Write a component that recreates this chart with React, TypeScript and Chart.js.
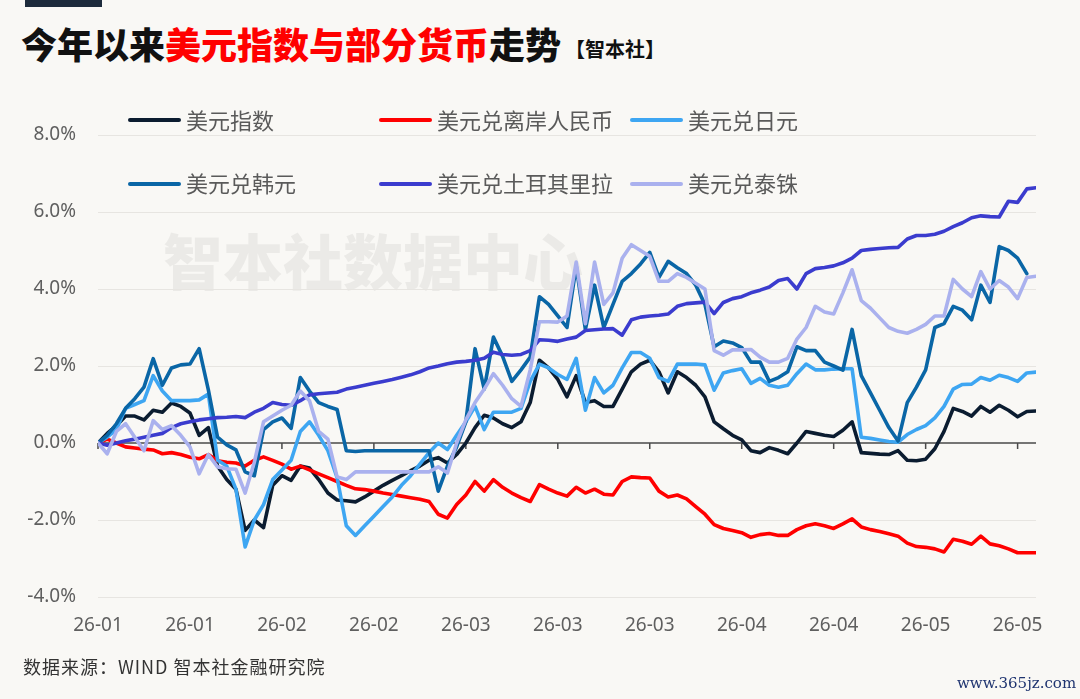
import React, { useEffect, useRef } from "react";
import { Chart, registerables } from "chart.js";

Chart.register(...registerables);

const FONT = '"Noto Sans", "Noto Sans CJK SC", sans-serif';
const CJK = '"Noto Sans CJK SC", "Noto Sans", sans-serif';
const BG = "#f9f8f5";

const seriesNames = ["美元指数", "美元兑离岸人民币", "美元兑日元", "美元兑韩元", "美元兑土耳其里拉", "美元兑泰铢"];
const seriesColors = ["#0b1c30", "#ff0000", "#3ea6f2", "#0a66a6", "#3b3cce", "#aab1ee"];
const tickLabels = ["26-01", "26-01", "26-02", "26-02", "26-03", "26-03", "26-03", "26-04", "26-04", "26-05", "26-05"];
const pointsPerTick = 10;
const yTicks = { min: -4, max: 8, step: 2 };

const usdIndex = [
  0, 0.25, 0.45, 0.7, 0.7, 0.6, 0.85, 0.8, 1.04, 0.95,
  0.78, 0.2, 0.4, -0.6, -0.95, -1.2, -2.27, -2.0, -2.2, -1.1,
  -0.85, -0.97, -0.6, -0.65, -0.95, -1.3, -1.48, -1.5, -1.53, -1.4,
  -1.25, -1.1, -0.97, -0.85, -0.72, -0.6, -0.45, -0.38, -0.52, -0.3,
  0.0, 0.4, 0.72, 0.65, 0.5, 0.4, 0.55, 1.05, 2.15, 1.95,
  1.65, 1.2, 1.75, 1.05, 1.1, 0.95, 0.95, 1.4, 1.85, 2.05,
  2.15, 1.85, 1.3, 1.85, 1.7, 1.5, 1.2, 0.55, 0.37, 0.2,
  0.08, -0.2, -0.25, -0.12, -0.19, -0.28, 0.0, 0.3, 0.25, 0.2,
  0.17, 0.33, 0.55, -0.25, -0.27, -0.29, -0.3, -0.2, -0.45, -0.46,
  -0.42, -0.15, 0.3, 0.9, 0.82, 0.7, 0.95, 0.8, 0.98, 0.85,
  0.68, 0.82, 0.83,
];

const usdCnh = [
  0, 0.1, 0.0, -0.1, -0.13, -0.16, -0.18, -0.28, -0.25, -0.3,
  -0.37, -0.41, -0.3, -0.46, -0.5, -0.52, -0.6, -0.45, -0.36, -0.45,
  -0.55, -0.68, -0.6, -0.7, -0.8, -0.9, -1.0, -1.1, -1.19, -1.21,
  -1.25, -1.3, -1.34, -1.38, -1.42, -1.46, -1.52, -1.85, -1.95, -1.6,
  -1.35, -1.0, -1.25, -0.95, -1.15, -1.3, -1.42, -1.52, -1.08, -1.2,
  -1.3, -1.38, -1.15, -1.3, -1.2, -1.33, -1.35, -1.0, -0.88, -0.9,
  -0.91, -1.25, -1.4, -1.35, -1.45, -1.65, -1.85, -2.12, -2.22, -2.27,
  -2.33, -2.45, -2.38, -2.35, -2.4, -2.4, -2.25, -2.15, -2.1, -2.15,
  -2.22, -2.1, -1.97, -2.18, -2.25, -2.3, -2.36, -2.42, -2.6, -2.69,
  -2.71, -2.75, -2.83, -2.5, -2.55, -2.63, -2.42, -2.62, -2.67, -2.75,
  -2.85, -2.85, -2.85,
];

const usdJpy = [
  0, 0.15, 0.35, 0.9, 1.0, 1.1, 1.75, 1.35, 1.1, 1.1,
  1.1, 1.12, 1.27, -0.45, -0.6, -1.2, -2.7, -2.0, -1.6, -0.95,
  -0.7, -0.45, 0.3, 0.55, 0.2, -0.2, -0.9, -2.15, -2.4, -2.15,
  -1.9, -1.65, -1.4, -1.1, -0.85, -0.55, -0.25, 0.0, -0.17, 0.2,
  0.55, 0.95, 0.35, 0.8, 0.8, 0.8, 0.9, 1.6, 2.05, 1.95,
  1.78, 1.65, 2.2, 0.85, 1.7, 1.3, 1.5, 1.95, 2.35, 2.35,
  2.2, 1.7, 1.6, 2.05, 2.05, 2.05, 2.03, 1.37, 1.82, 1.88,
  1.93, 1.55, 1.68, 1.5, 1.45, 1.5, 1.8, 2.05, 1.9, 1.9,
  1.92, 1.93, 1.93, 0.15, 0.12, 0.08, 0.04, 0.02, 0.22, 0.35,
  0.45, 0.65, 0.95, 1.4, 1.52, 1.53, 1.7, 1.63, 1.76, 1.7,
  1.6, 1.82, 1.84,
];

const usdKrw = [
  0, 0.2, 0.5, 0.9, 1.15, 1.45, 2.19, 1.5, 1.95, 2.03,
  2.05, 2.45, 1.38, 0.15, -0.05, -0.18, -0.75, -0.85, 0.35, 0.55,
  0.65, 0.38, 1.7, 1.35, 1.05, 0.95, 0.87, -0.2, -0.22, -0.2,
  -0.2, -0.2, -0.2, -0.2, -0.2, -0.2, -0.2, -1.25, -0.6, -0.1,
  0.55, 2.45, 1.4, 2.75, 2.25, 1.6, 1.9, 2.23, 3.8, 3.6,
  3.3, 3.0, 4.6, 2.95, 4.1, 3.0, 3.6, 4.2, 4.4, 4.65,
  4.95, 4.3, 4.72, 4.55, 4.4, 4.1, 3.6, 2.5, 2.65, 2.6,
  2.48, 2.1, 2.1, 1.6, 1.7, 1.85, 2.5, 2.4, 2.4, 2.1,
  2.0, 1.89, 2.95, 1.75, 1.3, 0.85, 0.4, 0.05, 1.05, 1.45,
  1.9, 3.0, 3.1, 3.55, 3.45, 3.2, 4.1, 3.65, 5.1, 5.0,
  4.8, 4.4, null,
];

const usdTry = [
  0, -0.06, 0.0, 0.06, 0.1, 0.15, 0.2, 0.25, 0.4, 0.5,
  0.55, 0.6, 0.63, 0.66, 0.67, 0.69, 0.66, 0.8, 0.9, 1.05,
  1.0, 0.98, 1.1, 1.25, 1.28, 1.3, 1.32, 1.4, 1.45, 1.5,
  1.55, 1.6, 1.65, 1.71, 1.77, 1.85, 1.95, 2.0, 2.06, 2.1,
  2.12, 2.15, 2.2, 2.36, 2.3, 2.28, 2.3, 2.4, 2.68, 2.67,
  2.64, 2.7, 2.75, 2.92, 2.94, 2.96, 2.97, 2.8, 3.2, 3.27,
  3.3, 3.32, 3.35, 3.55, 3.62, 3.64, 3.66, 3.36, 3.65, 3.75,
  3.8, 3.9, 3.97, 4.05, 4.22, 4.27, 4.0, 4.4, 4.53, 4.56,
  4.6, 4.68, 4.8, 5.0, 5.03, 5.05, 5.07, 5.08, 5.3, 5.39,
  5.39, 5.42, 5.5, 5.62, 5.72, 5.85, 5.9, 5.88, 5.87, 6.28,
  6.25, 6.6, 6.63,
];

const usdThb = [
  0, -0.28, 0.3, 0.5, 0.15, -0.2, 0.58, 0.35, 0.45, 0.2,
  -0.1, -0.8, -0.3, -0.62, -0.67, -0.68, -1.3, -0.5, 0.55, 0.7,
  0.85, 0.98, 1.35, 1.1, 0.3, 0.1, -0.88, -0.95, -0.75, -0.75,
  -0.75, -0.75, -0.75, -0.75, -0.75, -0.75, -0.75, -0.62, -0.78, 0.0,
  0.6, 1.05, 1.4, 1.8, 1.5, 1.15, 0.95, 1.9, 3.15, 3.15,
  3.14, 3.3, 4.7, 3.1, 4.7, 3.6, 3.9, 4.8, 5.15, 5.0,
  4.85, 4.2, 4.2, 4.4, 4.3, 4.15, 4.0, 2.4, 2.28, 2.42,
  2.42, 2.43, 2.23, 2.1, 2.1, 2.2, 2.7, 3.0, 3.55, 3.4,
  3.35, 3.9, 4.5, 3.7, 3.5, 3.25, 3.0, 2.9, 2.85, 2.95,
  3.08, 3.3, 3.3, 4.25, 4.0, 3.8, 4.45, 4.0, 4.22, 4.05,
  3.75, 4.3, 4.33,
];

const seriesValues = [usdIndex, usdCnh, usdJpy, usdKrw, usdTry, usdThb];
const dayIndex = usdIndex.map((_, i) => i);

const legendCols = [128, 379, 630];
const legendRows = [118.5, 182];

const zeroAxisPlugin = {
  id: "zeroAxisTicks",
  beforeDatasetsDraw(chart: any) {
    const xs = chart.scales.x;
    const ys = chart.scales.y;
    const y0 = ys.getPixelForValue(0);
    const ctx = chart.ctx;
    ctx.save();
    ctx.strokeStyle = "#4a4a4a";
    ctx.lineWidth = 1.5;
    ctx.beginPath();
    ctx.moveTo(chart.chartArea.left, y0);
    ctx.lineTo(chart.chartArea.right, y0);
    xs.ticks.forEach((t: any) => {
      const px = xs.getPixelForValue(t.value);
      ctx.moveTo(px, y0);
      ctx.lineTo(px, y0 + 6);
    });
    ctx.stroke();
    ctx.restore();
  },
};

export default function App() {
  const canvasRef = useRef<HTMLCanvasElement | null>(null);

  useEffect(() => {
    const prev = document.body.style.margin;
    document.body.style.margin = "0";
    const canvas = canvasRef.current;
    if (!canvas) return;
    const chart = new Chart(canvas, {
      type: "line",
      data: {
        labels: dayIndex,
        datasets: seriesNames.map((name, i) => ({
          label: name,
          data: seriesValues[i],
          borderColor: seriesColors[i],
          backgroundColor: seriesColors[i],
          borderWidth: 3.6,
          pointRadius: 0,
          pointHoverRadius: 0,
          tension: 0,
          fill: false,
          spanGaps: false,
          borderJoinStyle: "round" as const,
          borderCapStyle: "round" as const,
          order: seriesNames.length - 1 - i,
        })),
      },
      options: {
        animation: false,
        responsive: true,
        maintainAspectRatio: false,
        events: [],
        layout: { padding: { top: 135, right: 44, bottom: 0, left: 0 } },
        plugins: {
          legend: { display: false },
          tooltip: { enabled: false },
          title: { display: false },
        },
        scales: {
          x: {
            type: "linear",
            min: 0,
            max: dayIndex.length - 1,
            afterFit: (scale: any) => {
              scale.height = 102;
            },
            afterBuildTicks: (scale: any) => {
              scale.ticks = tickLabels.map((_, k) => ({ value: k * pointsPerTick }));
            },
            grid: { display: false, drawTicks: false },
            border: { display: false },
            ticks: {
              autoSkip: false,
              maxRotation: 0,
              padding: 17,
              color: "#5f5f5f",
              font: { family: FONT, size: 19 },
              callback: (v: any) => tickLabels[Math.round(Number(v) / pointsPerTick)] ?? "",
            },
          },
          y: {
            min: yTicks.min,
            max: yTicks.max,
            afterFit: (scale: any) => {
              scale.width = 98;
            },
            grid: {
              drawTicks: false,
              color: (c: any) => (c.tick && c.tick.value === 0 ? "rgba(0,0,0,0)" : "#e7e5e1"),
              lineWidth: 1,
            },
            border: { display: false },
            ticks: {
              stepSize: yTicks.step,
              padding: 22,
              color: "#5f5f5f",
              font: { family: FONT, size: 19 },
              callback: (v: any) => Number(v).toFixed(1) + "%",
            },
          },
        },
      },
      plugins: [zeroAxisPlugin],
    });
    return () => {
      chart.destroy();
      document.body.style.margin = prev;
    };
  }, []);

  return (
    <div
      style={{
        position: "fixed",
        left: 0,
        top: 0,
        width: 1080,
        height: 699,
        background: BG,
        overflow: "hidden",
        fontFamily: CJK,
      }}
    >
      <div style={{ position: "absolute", left: 25, top: 0, width: 77, height: 7, background: "#1d2b3c" }} />
      <div
        style={{
          position: "absolute",
          left: 21,
          top: 25,
          fontSize: 36,
          lineHeight: "36px",
          fontWeight: 900,
          color: "#111",
          whiteSpace: "nowrap",
        }}
      >
        今年以来<span style={{ color: "#ff0000" }}>美元指数与部分货币</span>走势
        <span style={{ fontSize: 20, fontWeight: 700, marginLeft: 4, verticalAlign: "middle" }}>【智本社】</span>
      </div>
      <div
        style={{
          position: "absolute",
          left: 163,
          top: 229,
          fontSize: 60,
          lineHeight: "60px",
          fontWeight: 900,
          color: "rgba(0,0,0,0.055)",
          whiteSpace: "nowrap",
        }}
      >
        智本社数据中心
      </div>
      <div style={{ position: "absolute", left: 0, top: 0, width: 1080, height: 699 }}>
        <canvas ref={canvasRef} style={{ display: "block" }} />
      </div>
      {seriesNames.map((name, i) => (
        <div
          key={name}
          style={{
            position: "absolute",
            left: legendCols[i % 3],
            top: legendRows[Math.floor(i / 3)] - 15,
            height: 30,
            display: "flex",
            alignItems: "center",
            whiteSpace: "nowrap",
          }}
        >
          <span
            style={{
              display: "inline-block",
              width: 53,
              height: 4,
              borderRadius: 2,
              background: seriesColors[i],
              marginTop: 3,
            }}
          />
          <span style={{ marginLeft: 5, fontSize: 22, lineHeight: "30px", color: "#5a5a5a" }}>{name}</span>
        </div>
      ))}
      <div
        style={{
          position: "absolute",
          left: 23,
          top: 655,
          fontSize: 18,
          lineHeight: "22px",
          color: "#333",
          letterSpacing: 1,
          whiteSpace: "nowrap",
        }}
      >
        数据来源：WIND 智本社金融研究院
      </div>
      <div
        style={{
          position: "absolute",
          left: 957,
          top: 674,
          fontSize: 15,
          lineHeight: "18px",
          color: "#1f3470",
          fontFamily: '"DejaVu Serif", serif',
          whiteSpace: "nowrap",
        }}
      >
        www.365jz.com
      </div>
    </div>
  );
}
